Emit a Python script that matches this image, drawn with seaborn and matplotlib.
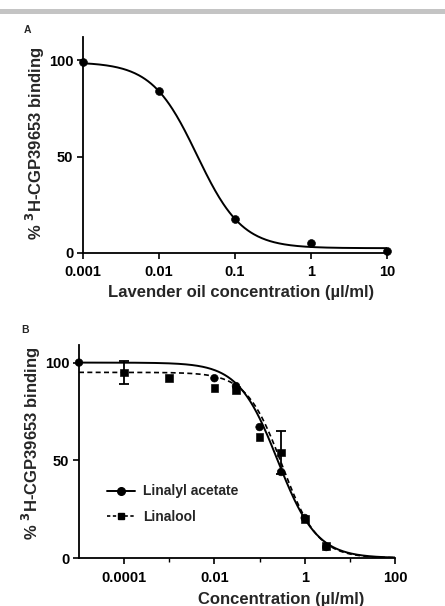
import numpy as np
import pandas as pd
import seaborn as sns
import matplotlib
matplotlib.use("Agg")
import matplotlib.pyplot as plt
from matplotlib.lines import Line2D
from matplotlib.patches import Rectangle
from matplotlib.ticker import FixedLocator, NullFormatter, NullLocator

# ---- Panel A: lavender oil displacement ----
lav_conc = [0.001, 0.01, 0.1, 1, 10]
lav_binding = [99, 84, 17.7, 5.2, 1]
# four-parameter logistic fit (top, bottom, logIC50, Hill slope)
lav_fit = dict(top=99, bottom=2.5, logic50=-1.5, hill=1.46)

# ---- Panel B: individual constituents ----
la_conc = [1e-5, 0.01, 0.03, 0.1, 0.3, 1, 3]
la_binding = [100, 92, 88, 67, 44, 20.5, 5.6]
la_err = [0, 0, 0, 0, 0, 0, 0]
la_fit = dict(top=100, bottom=0, logic50=-0.6, hill=1.0)

lo_conc = [1e-4, 1e-3, 0.01, 0.03, 0.1, 0.3, 1, 3]
lo_binding = [95, 92, 87, 86, 62, 54, 20, 6]
lo_err = [6, 0, 0, 0, 0, 11, 0, 0]
lo_fit = dict(top=95, bottom=0, logic50=-0.5, hill=1.1)

series_names = ["Linalyl acetate", "Linalool"]

a_xticks = [0.001, 0.01, 0.1, 1, 10]
a_xticklabels = ["0.001", "0.01", "0.1", "1", "10"]
b_xticks = [1e-4, 1e-2, 1, 100]
b_xticklabels = ["0.0001", "0.01", "1", "100"]
b_minor = [1e-3, 1e-1, 10]
yticks = [0, 50, 100]

sns.set_theme(style="ticks")
plt.rcParams["font.family"] = ["Liberation Sans", "DejaVu Sans"]
plt.rcParams["font.weight"] = "bold"


def logistic(p, x):
    return p["bottom"] + (p["top"] - p["bottom"]) / (1 + 10 ** ((np.log10(x) - p["logic50"]) * p["hill"]))


def curve_frame(p, lo, hi):
    x = np.logspace(np.log10(lo), np.log10(hi), 300)
    return pd.DataFrame({"conc": x, "binding": logistic(p, x)})


W, H = 445, 606
fig = plt.figure(figsize=(W / 100, H / 100), dpi=100)
fig.patch.set_facecolor("white")

# grey rule along the top edge
fig.add_artist(Rectangle((0, 1 - 14 / H), 1, 5 / H, transform=fig.transFigure,
                         color="#c4c4c4", lw=0))

axA = fig.add_axes([83 / W, 1 - 253 / H, 304 / W, 216 / H])
axB = fig.add_axes([79 / W, 1 - 558 / H, 316 / W, 213 / H])

lw_axis = 1.3
tick_fs = 10.5
label_fs = 12

# --- panel A ---
dfA = pd.DataFrame({"conc": lav_conc, "binding": lav_binding})
sns.lineplot(data=curve_frame(lav_fit, 0.001, 10), x="conc", y="binding",
             ax=axA, color="black", lw=1.4)
sns.scatterplot(data=dfA, x="conc", y="binding", ax=axA, color="black",
                s=32, marker="o", edgecolor="black", zorder=5, clip_on=False)
axA.set_xscale("log")
axA.set_xlim(0.001, 10)
axA.set_ylim(0, 112)
axA.xaxis.set_major_locator(FixedLocator(a_xticks))
axA.set_xticklabels(a_xticklabels)
axA.xaxis.set_minor_locator(NullLocator())
axA.set_xlabel("Lavender oil concentration (\u00b5l/ml)", fontsize=label_fs, fontweight="bold")

# --- panel B ---
dfB = pd.concat([
    pd.DataFrame({"conc": la_conc, "binding": la_binding, "err": la_err, "compound": series_names[0]}),
    pd.DataFrame({"conc": lo_conc, "binding": lo_binding, "err": lo_err, "compound": series_names[1]}),
])
sns.lineplot(data=curve_frame(la_fit, 1e-5, 100), x="conc", y="binding",
             ax=axB, color="black", lw=1.4)
sns.lineplot(data=curve_frame(lo_fit, 1e-5, 100), x="conc", y="binding",
             ax=axB, color="black", lw=1.2, linestyle=(0, (3, 2)))
sub = dfB[dfB["err"] > 0]
axB.errorbar(sub["conc"], sub["binding"], yerr=sub["err"], fmt="none",
             ecolor="black", elinewidth=1.3, capsize=3.5, capthick=1.3, zorder=4)
sns.scatterplot(data=dfB, x="conc", y="binding", style="compound",
                markers={series_names[0]: "o", series_names[1]: "s"},
                ax=axB, color="black", s=30, edgecolor="black", zorder=5,
                legend=False, clip_on=False)
axB.set_xscale("log")
axB.set_xlim(1e-5, 100)
axB.set_ylim(0, 109)
axB.xaxis.set_major_locator(FixedLocator(b_xticks))
axB.set_xticklabels(b_xticklabels)
axB.xaxis.set_minor_locator(FixedLocator(b_minor))
axB.xaxis.set_minor_formatter(NullFormatter())
axB.set_xlabel("Concentration (\u00b5l/ml)", fontsize=label_fs, fontweight="bold")

handles = [
    Line2D([], [], color="black", lw=1.4, marker="o", markersize=5.5),
    Line2D([], [], color="black", lw=1.2, linestyle=(0, (2, 1.5)), marker="s", markersize=5),
]
axB.legend(handles, series_names, loc="lower left", bbox_to_anchor=(0.05, 0.1),
           frameon=False, handlelength=2.0, handletextpad=0.6, fontsize=10,
           labelspacing=0.85)

for ax in (axA, axB):
    ax.set_ylabel("% $^{3}$H-CGP39653 binding", fontsize=label_fs, fontweight="bold")
    ax.yaxis.set_major_locator(FixedLocator(yticks))
    sns.despine(ax=ax)
    for s in ("left", "bottom"):
        ax.spines[s].set_linewidth(lw_axis)
        ax.spines[s].set_color("black")
    ax.tick_params(axis="both", which="major", direction="out", length=4, width=1.2,
                   labelsize=tick_fs, color="black", labelcolor="black", pad=3)
    ax.tick_params(axis="x", which="major", pad=5)
    ax.tick_params(axis="x", which="minor", direction="out", length=3, width=1.0, color="black")
    for t in ax.get_xticklabels() + ax.get_yticklabels():
        t.set_fontweight("bold")
    ax.set_facecolor("white")

axA.yaxis.set_label_coords(-0.12, 0.51)
axB.yaxis.set_label_coords(-0.115, 0.54)
axA.xaxis.set_label_coords(0.52, -0.15)
axB.xaxis.set_label_coords(0.64, -0.16)

fig.text(27 / W, 1 - 30 / H, "A", fontsize=7.5, fontweight="bold", ha="center", va="center")
fig.text(25 / W, 1 - 330 / H, "B", fontsize=7.5, fontweight="bold", ha="center", va="center")

fig.savefig("out.png", dpi=100, facecolor="white")
